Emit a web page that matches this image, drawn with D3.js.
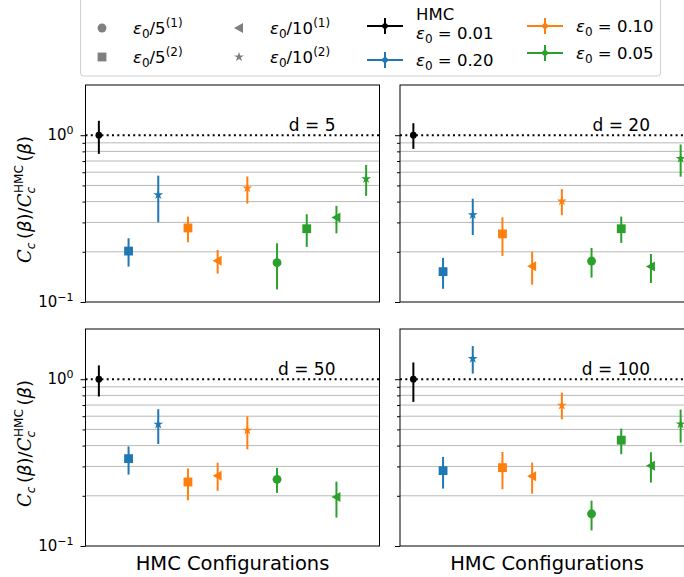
<!DOCTYPE html>
<html lang="en">
<head>
  <meta charset="utf-8">
  <title>Cc ratio panels</title>
  <script src="https://d3js.org/d3.v7.min.js"></script>
  <style>
    body { margin: 0; background: white; }
    text { font-family: "DejaVu Sans", sans-serif; fill: #000; }
  </style>
</head>
<body>
<script>

// HMC configurations along the x axis (index 0..9)
var configs = ["HMC 0.01", "0.20 /5(2)", "0.20 /10(2)", "0.10 /5(2)", "0.10 /10(1)",
               "0.10 /10(2)", "0.05 /5(1)", "0.05 /5(2)", "0.05 /10(1)", "0.05 /10(2)"];
var configEps = ["0.01", "0.20", "0.20", "0.10", "0.10", "0.10", "0.05", "0.05", "0.05", "0.05"];
var configKind = ["hmc", "5_2", "10_2", "5_2", "10_1", "10_2", "5_1", "5_2", "10_1", "10_2"];

var dims = [5, 20, 50, 100];

// ratio C_c / C_c^HMC, with lower / upper error bar ends (null = not shown)
var ratio_d5 = [1.00, 0.202, 0.439, 0.278, 0.177, 0.482, 0.172, 0.275, 0.321, 0.548];
var lo_d5    = [0.773, 0.163, 0.301, 0.228, 0.148, 0.389, 0.119, 0.214, 0.258, 0.433];
var hi_d5    = [1.22, 0.241, 0.572, 0.325, 0.205, 0.566, 0.225, 0.336, 0.377, 0.663];

var ratio_d20 = [1.00, 0.152, 0.333, 0.256, 0.164, 0.403, 0.176, 0.275, 0.163, 0.724];
var lo_d20    = [0.828, 0.120, 0.252, 0.189, 0.127, 0.331, 0.140, 0.226, 0.130, 0.564];
var hi_d20    = [1.18, 0.184, 0.416, 0.322, 0.200, 0.475, 0.211, 0.325, 0.194, 0.879];

var ratio_d50 = [1.00, 0.334, 0.537, 0.242, 0.264, 0.494, 0.251, null, 0.197, null];
var lo_d50    = [0.787, 0.268, 0.409, 0.188, 0.214, 0.380, 0.208, null, 0.148, null];
var hi_d50    = [1.21, 0.395, 0.661, 0.292, 0.316, 0.600, 0.294, null, 0.243, null];

var ratio_d100 = [1.00, 0.283, 1.33, 0.295, 0.262, 0.698, 0.156, 0.431, 0.303, 0.539];
var lo_d100    = [0.731, 0.221, 1.08, 0.219, 0.206, 0.575, 0.124, 0.355, 0.240, 0.417];
var hi_d100    = [1.26, 0.342, 1.58, 0.366, 0.316, 0.832, 0.187, 0.506, 0.365, 0.658];

var panelData = [
  {d: dims[0], v: ratio_d5,   lo: lo_d5,   hi: hi_d5},
  {d: dims[1], v: ratio_d20,  lo: lo_d20,  hi: hi_d20},
  {d: dims[2], v: ratio_d50,  lo: lo_d50,  hi: hi_d50},
  {d: dims[3], v: ratio_d100, lo: lo_d100, hi: hi_d100}
];

var yTicks = [0.1, 1];
var yMinor = [0.2, 0.3, 0.4, 0.5, 0.6, 0.7, 0.8, 0.9];

var epsColor = {"0.01": "#000000", "0.20": "#1f77b4", "0.10": "#ff7f0e", "0.05": "#2ca02c"};

var width = 684, height = 577;
var svg = d3.select("body").append("svg")
            .attr("width", width).attr("height", height);

var pw = 294, ph = 217;
var panelPos = [[85.5, 85], [400, 85], [85.5, 329], [400, 329]];

// marker shapes
function markerPath(kind) {
  if (kind == "5_1") return d3.symbol().type(d3.symbolCircle).size(62)();
  if (kind == "5_2") return d3.symbol().type(d3.symbolSquare).size(78)();
  if (kind == "10_2") return d3.symbol().type(d3.symbolStar).size(30)();
  if (kind == "10_1") return "M-5,0L4,-5L4,5Z";
  return d3.symbol().type(d3.symbolCircle).size(36)();
}

function supLabel(sel, base, sup) {
  sel.append("tspan").text(base);
  sel.append("tspan").attr("dy", -6).style("font-size", "11px").text(sup);
}

panelData.forEach(function(p, i) {
  var px = panelPos[i][0], py = panelPos[i][1];
  var g = svg.append("g").attr("transform", "translate(" + px + "," + py + ")");

  var x = d3.scaleLinear().domain([-0.45, 9.45]).range([0, pw]);
  var y = d3.scaleLog().domain([0.1, 2]).range([ph, 0]);

  // grid on minor ticks
  g.selectAll(".grid").data(yMinor).enter().append("line")
    .attr("x1", 0).attr("x2", pw)
    .attr("y1", function(d){ return y(d); }).attr("y2", function(d){ return y(d); })
    .attr("stroke", "#b8b8b8").attr("stroke-width", 1);

  // reference line at 1
  g.append("line").attr("x1", 0).attr("x2", pw)
    .attr("y1", y(1)).attr("y2", y(1))
    .attr("stroke", "#000").attr("stroke-width", 2)
    .attr("stroke-dasharray", "2,3.3");

  // y axis
  var axis = d3.axisLeft(y).tickValues(yTicks).tickSize(5).tickFormat("");
  var ax = g.append("g").call(axis);
  ax.select(".domain").remove();
  ax.selectAll("line").attr("stroke", "#000");
  g.append("g").call(d3.axisLeft(y).tickValues(yMinor).tickSize(3).tickFormat(""))
    .call(function(s){ s.select(".domain").remove(); s.selectAll("line").attr("stroke", "#000"); });

  if (i % 2 == 0) {
    yTicks.forEach(function(t) {
      var tx = g.append("text").attr("x", -12).attr("y", y(t) + 5)
        .attr("text-anchor", "end").style("font-size", "15px");
      supLabel(tx, "10", t == 1 ? "0" : "\u22121");
    });
    var yl = svg.append("text")
      .attr("transform", "translate(31," + (py + ph / 2 + 6) + ") rotate(-90)")
      .attr("text-anchor", "middle").style("font-size", "18px");
    yl.append("tspan").style("font-style", "italic").style("font-family", "DejaVu Serif").text("C");
    yl.append("tspan").attr("dy", 4).style("font-size", "12px").style("font-style", "italic").text("c");
    yl.append("tspan").attr("dy", -4).text("\u2009(");
    yl.append("tspan").style("font-style", "italic").text("\u03b2");
    yl.append("tspan").text(")/");
    yl.append("tspan").style("font-style", "italic").style("font-family", "DejaVu Serif").text("C");
    yl.append("tspan").attr("dy", 4).style("font-size", "12px").style("font-style", "italic").text("c");
    yl.append("tspan").attr("dx", -6).attr("dy", -12).style("font-size", "12px").text("HMC");
    yl.append("tspan").attr("dy", 8).text("\u2009(");
    yl.append("tspan").style("font-style", "italic").text("\u03b2");
    yl.append("tspan").text(")");
  }

  // error bars and markers
  var pts = p.v.map(function(v, k){ return {k: k, v: v, lo: p.lo[k], hi: p.hi[k]}; })
               .filter(function(o){ return o.v != null; });

  g.selectAll(".err").data(pts).enter().append("line")
    .attr("x1", function(o){ return x(o.k); }).attr("x2", function(o){ return x(o.k); })
    .attr("y1", function(o){ return y(o.lo); }).attr("y2", function(o){ return y(o.hi); })
    .attr("stroke", function(o){ return epsColor[configEps[o.k]]; })
    .attr("stroke-width", 2);

  g.selectAll(".mk").data(pts).enter().append("path")
    .attr("d", function(o){ return markerPath(configKind[o.k]); })
    .attr("transform", function(o){ return "translate(" + x(o.k) + "," + y(o.v) + ")"; })
    .attr("fill", function(o){ return epsColor[configEps[o.k]]; });

  // frame
  g.append("rect").attr("width", pw).attr("height", ph)
    .attr("fill", "none").attr("stroke", "#000").attr("stroke-width", 1);

  g.append("text").attr("x", pw - 44).attr("y", y(1) - 4)
    .attr("text-anchor", "end").style("font-size", "17px").text("d = " + p.d);

  if (i >= 2) {
    g.append("text").attr("x", pw / 2).attr("y", ph + 24)
      .attr("text-anchor", "middle").style("font-size", "19.5px").text("HMC Configurations");
  }
});

// legend
var lg = svg.append("g");
lg.append("rect").attr("x", 80.5).attr("y", -3).attr("width", 580).attr("height", 79)
  .attr("rx", 3).attr("fill", "white").attr("stroke", "#d0d0d0");

function epsText(sel, parts) {
  sel.append("tspan").style("font-style", "italic").text("\u03b5");
  sel.append("tspan").attr("dy", 4).style("font-size", "12px").text("0");
  sel.append("tspan").attr("dy", -4).text(parts[0]);
  if (parts[1]) sel.append("tspan").attr("dy", -7).style("font-size", "12px").text(parts[1]);
}

var shapeLegend = [
  {kind: "5_1", lab: ["/5", "(1)"], x: 102, y: 28},
  {kind: "5_2", lab: ["/5", "(2)"], x: 102, y: 57},
  {kind: "10_1", lab: ["/10", "(1)"], x: 239, y: 28},
  {kind: "10_2", lab: ["/10", "(2)"], x: 239, y: 57}
];
shapeLegend.forEach(function(s) {
  lg.append("path").attr("d", markerPath(s.kind))
    .attr("transform", "translate(" + s.x + "," + s.y + ")")
    .attr("fill", "#808080");
  var t = lg.append("text").attr("x", s.x + 31).attr("y", s.y + 6).style("font-size", "16.5px");
  epsText(t, s.lab);
});

var lineLegend = [
  {eps: "0.01", x: 367, y: 26},
  {eps: "0.20", x: 367, y: 60},
  {eps: "0.10", x: 527, y: 26},
  {eps: "0.05", x: 527, y: 53}
];
lineLegend.forEach(function(s) {
  var c = epsColor[s.eps];
  lg.append("line").attr("x1", s.x).attr("x2", s.x + 36).attr("y1", s.y).attr("y2", s.y)
    .attr("stroke", c).attr("stroke-width", 2);
  lg.append("line").attr("x1", s.x + 18).attr("x2", s.x + 18).attr("y1", s.y - 8).attr("y2", s.y + 8)
    .attr("stroke", c).attr("stroke-width", 2);
  lg.append("circle").attr("cx", s.x + 18).attr("cy", s.y).attr("r", 2.8).attr("fill", c);
  var ty = s.y + 6;
  if (s.eps == "0.01") {
    lg.append("text").attr("x", s.x + 49).attr("y", 20).style("font-size", "16.5px").text("HMC");
    ty = 39;
  }
  var t = lg.append("text").attr("x", s.x + 49).attr("y", ty).style("font-size", "16.5px");
  epsText(t, [" = " + s.eps]);
});

</script>
</body>
</html>
